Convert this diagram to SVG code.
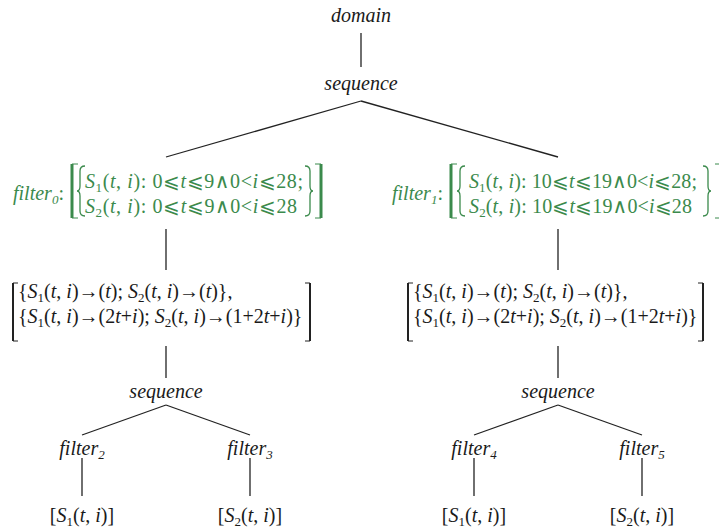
<svg xmlns="http://www.w3.org/2000/svg" width="719" height="529" viewBox="0 0 719 529" font-family="'Liberation Serif', 'Times New Roman', Tinos, 'Noto Serif', 'DejaVu Serif', serif">
<style>
text{font-family:'Liberation Serif','Times New Roman',Tinos,'DejaVu Serif',serif;font-size:20px;fill:#1a1a1a}
.it{font-style:italic}
.c{text-anchor:middle}
.g{fill:#3b8a4c}
.sb{font-size:13px}
.ln{stroke:#222;stroke-width:1.3;fill:none}
.gb{stroke:#3b8a4c;fill:none}
.kb{stroke:#222;fill:none}
</style>
<rect width="719" height="529" fill="#fff"/>
<g id="connectors">
<line class="ln" x1="361" y1="33" x2="361" y2="67"/>
<line class="ln" x1="361" y1="101" x2="166" y2="157"/>
<line class="ln" x1="361" y1="101" x2="558" y2="157"/>
<line class="ln" x1="166" y1="229" x2="166" y2="270"/>
<line class="ln" x1="558" y1="229" x2="558" y2="270"/>
<line class="ln" x1="166" y1="346" x2="166" y2="378"/>
<line class="ln" x1="558" y1="346" x2="558" y2="378"/>
<line class="ln" x1="166" y1="405" x2="82" y2="435"/>
<line class="ln" x1="166" y1="405" x2="250" y2="435"/>
<line class="ln" x1="558" y1="405" x2="474" y2="435"/>
<line class="ln" x1="558" y1="405" x2="642" y2="435"/>
<line class="ln" x1="82" y1="458" x2="82" y2="496"/>
<line class="ln" x1="250" y1="458" x2="250" y2="496"/>
<line class="ln" x1="474" y1="458" x2="474" y2="496"/>
<line class="ln" x1="642" y1="458" x2="642" y2="496"/>
</g>
<g id="domain"><text class="it c" x="361" y="22">domain</text></g>
<g id="sequence0"><text class="it c" x="361" y="90">sequence</text></g>
<g id="filter0">
<text class="it g" x="13" y="200">filter<tspan class="sb" dy="4">0</tspan><tspan dy="-4" font-style="normal">:</tspan></text>
<path class="gb" d="M78,164 H72 V218 H78" stroke-width="1"/>
<line class="gb" x1="72" y1="164" x2="72" y2="218" stroke-width="3"/>
<path class="gb" stroke-width="1.3" d="M85,166 Q80,166 80,171 V186 Q80,191 77,191 Q80,191 80,196 V211 Q80,216 85,216"/>
<text class="g" x="85" y="188" textLength="218" lengthAdjust="spacing"><tspan class="it">S</tspan><tspan class="sb" dy="4">1</tspan><tspan dy="-4">(</tspan><tspan class="it">t</tspan>, <tspan class="it">i</tspan>): 0⩽<tspan class="it">t</tspan>⩽9∧0&lt;<tspan class="it">i</tspan>⩽28;</text>
<text class="g" x="85" y="213" textLength="212" lengthAdjust="spacing"><tspan class="it">S</tspan><tspan class="sb" dy="4">2</tspan><tspan dy="-4">(</tspan><tspan class="it">t</tspan>, <tspan class="it">i</tspan>): 0⩽<tspan class="it">t</tspan>⩽9∧0&lt;<tspan class="it">i</tspan>⩽28</text>
<path class="gb" stroke-width="1.3" d="M305,166 Q310,166 310,171 V186 Q310,191 313,191 Q310,191 310,196 V211 Q310,216 305,216"/>
<path class="gb" d="M315,164 H321 V218 H315" stroke-width="1"/>
<line class="gb" x1="321" y1="164" x2="321" y2="218" stroke-width="3"/>
</g>
<g id="filter1">
<text class="it g" x="392" y="200">filter<tspan class="sb" dy="4">1</tspan><tspan dy="-4" font-style="normal">:</tspan></text>
<path class="gb" d="M457,164 H451 V218 H457" stroke-width="1"/>
<line class="gb" x1="451" y1="164" x2="451" y2="218" stroke-width="3"/>
<path class="gb" stroke-width="1.3" d="M465,166 Q460,166 460,171 V186 Q460,191 457,191 Q460,191 460,196 V211 Q460,216 465,216"/>
<text class="g" x="469" y="188" textLength="228" lengthAdjust="spacing"><tspan class="it">S</tspan><tspan class="sb" dy="4">1</tspan><tspan dy="-4">(</tspan><tspan class="it">t</tspan>, <tspan class="it">i</tspan>): 10⩽<tspan class="it">t</tspan>⩽19∧0&lt;<tspan class="it">i</tspan>⩽28;</text>
<text class="g" x="469" y="213" textLength="223" lengthAdjust="spacing"><tspan class="it">S</tspan><tspan class="sb" dy="4">2</tspan><tspan dy="-4">(</tspan><tspan class="it">t</tspan>, <tspan class="it">i</tspan>): 10⩽<tspan class="it">t</tspan>⩽19∧0&lt;<tspan class="it">i</tspan>⩽28</text>
<path class="gb" stroke-width="1.3" d="M703,166 Q708,166 708,171 V186 Q708,191 711,191 Q708,191 708,196 V211 Q708,216 703,216"/>
<path class="gb" d="M715,164 H721 V218 H715" stroke-width="1"/>
</g>
<g id="map0">
<path class="kb" d="M18,283 H13 V341 H18" stroke-width="1"/>
<line class="kb" x1="13" y1="283" x2="13" y2="341" stroke-width="2"/>
<text x="18" y="298">{<tspan class="it">S</tspan><tspan class="sb" dy="4">1</tspan><tspan dy="-4">(</tspan><tspan class="it">t</tspan>, <tspan class="it">i</tspan>)→(<tspan class="it">t</tspan>); <tspan class="it">S</tspan><tspan class="sb" dy="4">2</tspan><tspan dy="-4">(</tspan><tspan class="it">t</tspan>, <tspan class="it">i</tspan>)→(<tspan class="it">t</tspan>)},</text>
<text x="18" y="323">{<tspan class="it">S</tspan><tspan class="sb" dy="4">1</tspan><tspan dy="-4">(</tspan><tspan class="it">t</tspan>, <tspan class="it">i</tspan>)→(2<tspan class="it">t</tspan>+<tspan class="it">i</tspan>); <tspan class="it">S</tspan><tspan class="sb" dy="4">2</tspan><tspan dy="-4">(</tspan><tspan class="it">t</tspan>, <tspan class="it">i</tspan>)→(1+2<tspan class="it">t</tspan>+<tspan class="it">i</tspan>)}</text>
<path class="kb" d="M305,283 H310 V341 H305" stroke-width="1"/>
<line class="kb" x1="310" y1="283" x2="310" y2="341" stroke-width="2"/>
</g>
<g id="map1">
<path class="kb" d="M413,283 H408 V341 H413" stroke-width="1"/>
<line class="kb" x1="408" y1="283" x2="408" y2="341" stroke-width="2"/>
<text x="413" y="298">{<tspan class="it">S</tspan><tspan class="sb" dy="4">1</tspan><tspan dy="-4">(</tspan><tspan class="it">t</tspan>, <tspan class="it">i</tspan>)→(<tspan class="it">t</tspan>); <tspan class="it">S</tspan><tspan class="sb" dy="4">2</tspan><tspan dy="-4">(</tspan><tspan class="it">t</tspan>, <tspan class="it">i</tspan>)→(<tspan class="it">t</tspan>)},</text>
<text x="413" y="323">{<tspan class="it">S</tspan><tspan class="sb" dy="4">1</tspan><tspan dy="-4">(</tspan><tspan class="it">t</tspan>, <tspan class="it">i</tspan>)→(2<tspan class="it">t</tspan>+<tspan class="it">i</tspan>); <tspan class="it">S</tspan><tspan class="sb" dy="4">2</tspan><tspan dy="-4">(</tspan><tspan class="it">t</tspan>, <tspan class="it">i</tspan>)→(1+2<tspan class="it">t</tspan>+<tspan class="it">i</tspan>)}</text>
<path class="kb" d="M698,283 H703 V341 H698" stroke-width="1"/>
<line class="kb" x1="703" y1="283" x2="703" y2="341" stroke-width="2"/>
</g>
<g id="sequence1"><text class="it c" x="166" y="398">sequence</text></g>
<g id="sequence2"><text class="it c" x="558" y="398">sequence</text></g>
<g id="filter2"><text class="it c" x="82" y="455">filter<tspan class="sb" dy="4">2</tspan></text></g>
<g id="filter3"><text class="it c" x="250" y="455">filter<tspan class="sb" dy="4">3</tspan></text></g>
<g id="filter4"><text class="it c" x="474" y="455">filter<tspan class="sb" dy="4">4</tspan></text></g>
<g id="filter5"><text class="it c" x="642" y="455">filter<tspan class="sb" dy="4">5</tspan></text></g>
<g id="leaf2"><text class="c" x="82" y="522">[<tspan class="it">S</tspan><tspan class="sb" dy="4">1</tspan><tspan dy="-4">(</tspan><tspan class="it">t</tspan>, <tspan class="it">i</tspan>)]</text></g>
<g id="leaf3"><text class="c" x="250" y="522">[<tspan class="it">S</tspan><tspan class="sb" dy="4">2</tspan><tspan dy="-4">(</tspan><tspan class="it">t</tspan>, <tspan class="it">i</tspan>)]</text></g>
<g id="leaf4"><text class="c" x="474" y="522">[<tspan class="it">S</tspan><tspan class="sb" dy="4">1</tspan><tspan dy="-4">(</tspan><tspan class="it">t</tspan>, <tspan class="it">i</tspan>)]</text></g>
<g id="leaf5"><text class="c" x="642" y="522">[<tspan class="it">S</tspan><tspan class="sb" dy="4">2</tspan><tspan dy="-4">(</tspan><tspan class="it">t</tspan>, <tspan class="it">i</tspan>)]</text></g>
</svg>
